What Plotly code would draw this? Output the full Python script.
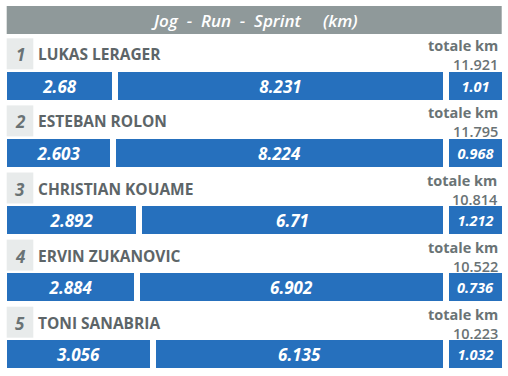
import plotly.graph_objects as go

# ---- data ----
ranks = [1, 2, 3, 4, 5]
players = ["LUKAS LERAGER", "ESTEBAN ROLON", "CHRISTIAN KOUAME", "ERVIN ZUKANOVIC", "TONI SANABRIA"]
jog = [2.68, 2.603, 2.892, 2.884, 3.056]
run = [8.231, 8.224, 6.71, 6.902, 6.135]
sprint = [1.01, 0.968, 1.212, 0.736, 1.032]
totals = [11.921, 11.795, 10.814, 10.522, 10.223]
title_text = "Jog  -  Run  -  Sprint     (km)"
total_label = "totale km"

# ---- layout constants (pixel space) ----
W, H = 508, 376
X0, X1 = 6.7, 501.7
GAP = 6.0
SPRINT_W = 52.7
ROW_TOP = 38.3
PITCH = 67.1
BAR_OFF = 33.5
BAR_H = 28.0

BLUE = "#2670bd"
GREY_BAR = "#8f999a"
BOX = "#e8ebeb"
TXT = "#5d6568"
TXT2 = "#6a7375"
FONT = "Open Sans"

span = (X1 - X0) - SPRINT_W - 2 * GAP

bases, widths, ys, texts, sizes = [], [], [], [], []
for i in range(len(players)):
    yc = ROW_TOP + i * PITCH + BAR_OFF + BAR_H / 2
    jw = jog[i] / (jog[i] + run[i]) * span
    rw = span - jw
    segs = [(X0, jw, jog[i], 17), (X0 + jw + GAP, rw, run[i], 17),
            (X1 - SPRINT_W, SPRINT_W, sprint[i], 14.5)]
    for b, w, v, s in segs:
        bases.append(b)
        widths.append(w)
        ys.append(yc)
        texts.append(f"{v:g}")
        sizes.append(s)

fig = go.Figure()
fig.add_trace(go.Bar(
    orientation="h", base=bases, x=widths, y=ys, width=BAR_H,
    marker=dict(color=BLUE, line=dict(width=0)),
    text=texts, textposition="inside", insidetextanchor="middle",
    textangle=0, constraintext="none",
    textfont=dict(family=FONT, color="white", size=sizes, weight="bold", style="italic"),
    hoverinfo="skip", showlegend=False,
))

shapes = [dict(type="rect", xref="x", yref="y", x0=X0, x1=X1, y0=6, y1=34,
               fillcolor=GREY_BAR, line=dict(width=0), layer="below")]
annotations = [dict(x=(X0 + X1) / 2, y=20.5, xref="x", yref="y", text=title_text,
                    showarrow=False, font=dict(family=FONT, size=17, color="white",
                                               style="italic", weight=600))]
for i in range(len(players)):
    top = ROW_TOP + i * PITCH
    shapes.append(dict(type="rect", xref="x", yref="y", x0=X0, x1=33.3, y0=top, y1=top + 31,
                       fillcolor=BOX, line=dict(width=0), layer="below"))
    annotations.append(dict(x=20, y=top + 16.5, xref="x", yref="y", text=str(ranks[i]),
                            showarrow=False, font=dict(family=FONT, size=17, color=TXT2,
                                                       style="italic", weight=700)))
    annotations.append(dict(x=36, y=top + 16, xref="x", yref="y", text=players[i],
                            xanchor="left", showarrow=False,
                            font=dict(family=FONT, size=15.5, color=TXT, weight=700)))
    annotations.append(dict(
        x=500, y=top + 17, xref="x", yref="y",
        text=f"{total_label}<br><span style='font-size:14.5px;font-weight:600'>{totals[i]:.3f}</span>",
        xanchor="right", yanchor="middle", align="right", showarrow=False,
        font=dict(family=FONT, size=14.5, color=TXT2, weight=700)))

fig.update_layout(
    width=W, height=H, margin=dict(l=0, r=0, t=0, b=0),
    paper_bgcolor="white", plot_bgcolor="white",
    xaxis=dict(range=[0, W], visible=False, fixedrange=True),
    yaxis=dict(range=[H, 0], visible=False, fixedrange=True),
    shapes=shapes, annotations=annotations, bargap=0,
)

fig.write_html("out.html", config={"displayModeBar": False},
               post_script="document.body.style.margin='0';")
